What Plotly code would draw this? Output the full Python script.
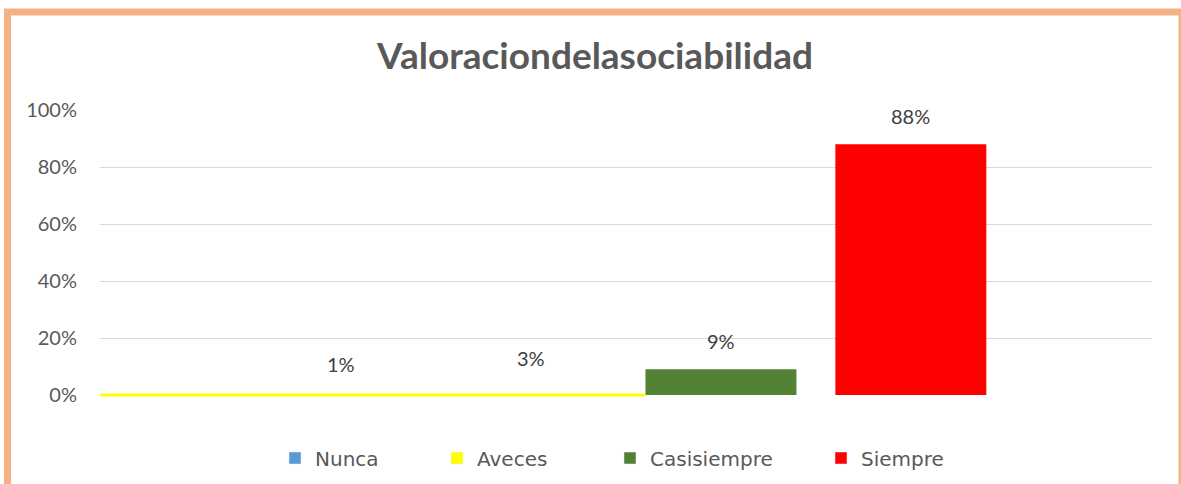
import plotly.graph_objects as go

categories = ["Nunca", "Aveces", "Casisiempre", "Siempre"]
values = [0.01, 0.03, 0.09, 0.88]
labels = ["1%", "3%", "9%", "88%"]
colors = ["#5B9BD5", "#FFFF00", "#548235", "#FF0000"]
visible_fill = [False, False, True, True]
y_ticks = [0, 0.2, 0.4, 0.6, 0.8, 1.0]
y_tick_text = ["0%", "20%", "40%", "60%", "80%", "100%"]
legend_px = [275, 437, 610, 821]

W, H = 1181, 484
ML, MR, MT, MB = 100, 29, 110, 89
pw, ph = W - ML - MR, H - MT - MB
BAR_W = 0.795
XR = [-1.27, 4.27]

fig = go.Figure()
for i, (c, v, col, vis) in enumerate(zip(categories, values, colors, visible_fill)):
    lg = "legend" if i == 0 else f"legend{i+1}"
    fig.add_trace(go.Bar(
        x=[c], y=[v], width=BAR_W, name=c,
        marker=dict(color=col if vis else "rgba(0,0,0,0)", line=dict(width=0)),
        showlegend=False, hoverinfo="skip"))
    fig.add_trace(go.Bar(
        x=[None], y=[None], name=c, marker=dict(color=col),
        showlegend=True, legend=lg))

# data labels
for c, v, t in zip(categories, values, labels):
    fig.add_annotation(x=c, y=v, text=t, showarrow=False, yanchor="bottom",
                       yshift=14, font=dict(family="Lato", size=20, color="#404040"))

# thin yellow baseline stroke (as in the reference rendering)
fig.add_shape(type="line", xref="x", yref="paper", layer="above",
              x0=XR[0], x1=categories.index("Casisiempre") - BAR_W / 2, y0=0, y1=0,
              line=dict(color=colors[1], width=3))

# orange outer border
def px_x(p): return (p - ML) / pw
def px_y(p): return (H - MB - p) / ph
fig.add_shape(type="rect", xref="paper", yref="paper", layer="above",
              x0=px_x(7.5), x1=px_x(1182), y0=px_y(12), y1=px_y(495),
              line=dict(color="#F4B183", width=7), fillcolor="rgba(0,0,0,0)")

legends = {}
for i, lp in enumerate(legend_px):
    key = "legend" if i == 0 else f"legend{i+1}"
    legends[key] = dict(x=lp / W, xref="container", y=1 - 458 / H, yref="container",
                        xanchor="left", yanchor="middle",
                        orientation="h", bgcolor="rgba(0,0,0,0)",
                        font=dict(family="DejaVu Sans", size=20, color="#595959"))

fig.update_layout(
    width=W, height=H, barmode="overlay",
    margin=dict(l=ML, r=MR, t=MT, b=MB, autoexpand=False),
    paper_bgcolor="white", plot_bgcolor="white",
    title=dict(text="<b>Valoraciondelasociabilidad</b>", x=595 / W, xanchor="center",
               y=1 - 56 / H, yanchor="middle",
               font=dict(family="Lato", size=37, color="#595959")),
    xaxis=dict(type="category", categoryarray=categories, range=XR,
               showticklabels=False, showgrid=False, zeroline=False, showline=False),
    yaxis=dict(range=[0, 1], tickvals=y_ticks, ticktext=y_tick_text,
               showgrid=True, gridcolor="#D9D9D9", gridwidth=1,
               zeroline=False, showline=False, ticks="outside", ticklen=18,
               tickcolor="rgba(0,0,0,0)",
               tickfont=dict(family="Lato", size=20, color="#595959")),
    **legends,
)

fig.write_html("out.html", config={"displayModeBar": False},
               post_script="document.body.style.margin='0';document.body.style.overflow='hidden';")
